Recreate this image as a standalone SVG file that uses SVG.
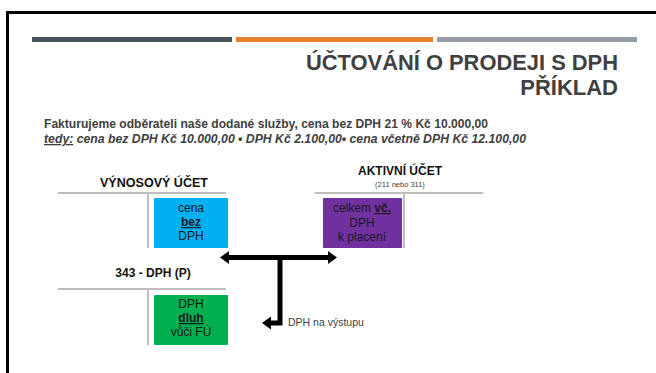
<svg xmlns="http://www.w3.org/2000/svg" width="656" height="373" viewBox="0 0 656 373">
<style>
.t{font-family:"Liberation Sans",Arial,sans-serif;fill:#404040}
.b{font-weight:bold}
.acc{stroke:#bfbfbf;stroke-width:2;fill:none}
.box{font-family:"Liberation Sans",Arial,sans-serif;font-size:12px;fill:#1a1a1a;text-anchor:middle}
.arr{stroke:#000;stroke-width:5;fill:none}
</style>
<rect width="656" height="373" fill="#fff"/>
<path d="M7.5 373 V12.5 H656" stroke="#000" stroke-width="3" fill="none"/>
<rect x="32" y="37" width="200" height="5" fill="#475359"/>
<rect x="236" y="37" width="197" height="5" fill="#e8822a"/>
<rect x="437" y="37" width="200" height="5" fill="#969ca4"/>
<text class="t b" x="618" y="70" font-size="22" text-anchor="end" textLength="312" lengthAdjust="spacingAndGlyphs">ÚČTOVÁNÍ O PRODEJI S DPH</text>
<text class="t b" x="618" y="95" font-size="22" text-anchor="end">PŘÍKLAD</text>
<text class="t b" x="44" y="128" font-size="13" textLength="444" lengthAdjust="spacingAndGlyphs">Fakturujeme odběrateli naše dodané služby, cena bez DPH 21 % Kč 10.000,00</text>
<text class="t b" x="44" y="143" font-size="13" font-style="italic" textLength="482" lengthAdjust="spacingAndGlyphs"><tspan text-decoration="underline">tedy:</tspan> cena bez DPH Kč 10.000,00 • DPH Kč 2.100,00• cena včetně DPH Kč 12.100,00</text>

<g id="vynosovy">
<text class="t b" x="154" y="187" font-size="12" text-anchor="middle" style="fill:#111" textLength="108" lengthAdjust="spacingAndGlyphs">VÝNOSOVÝ ÚČET</text>
<path class="acc" d="M58 193 H226 M148 193 V248"/>
<rect x="154" y="198" width="74" height="50" rx="1" fill="#00b0f0"/>
<text class="box" x="191" y="212">cena</text>
<text class="box b" x="191" y="226" text-decoration="underline">bez</text>
<text class="box" x="191" y="240">DPH</text>
</g>

<g id="aktivni">
<text class="t b" x="400" y="175" font-size="12" text-anchor="middle" style="fill:#111">AKTIVNÍ ÚČET</text>
<text class="t" x="400" y="187" font-size="7.5" text-anchor="middle">(211  nebo 311)</text>
<path class="acc" d="M315 193 H483 M404 193 V248"/>
<rect x="323" y="198" width="79" height="50" rx="1" fill="#7030a0"/>
<text class="box" x="362" y="212">celkem <tspan font-weight="bold" text-decoration="underline">vč.</tspan></text>
<text class="box" x="362" y="227">DPH</text>
<text class="box" x="362" y="241">k placení</text>
</g>

<g id="dph343">
<text class="t b" x="153" y="277" font-size="12" text-anchor="middle" style="fill:#111">343 - DPH (P)</text>
<path class="acc" d="M58 289 H226 M148 289 V345"/>
<rect x="154" y="295" width="74" height="50" rx="1" fill="#00b050"/>
<text class="box" x="191" y="308">DPH</text>
<text class="box b" x="191" y="322" text-decoration="underline">dluh</text>
<text class="box" x="191" y="336">vůči FÚ</text>
</g>

<g id="connectors">
<path class="arr" d="M228 257.5 H328 M280 257.5 V323 H270"/>
<path d="M220 257.5 L229 251 L229 264 Z" fill="#000"/>
<path d="M337 257.5 L328 251 L328 264 Z" fill="#000"/>
<path d="M262 323 L271 316.5 L271 329.5 Z" fill="#000"/>
<text class="t" x="288" y="326" font-size="10.5">DPH na výstupu</text>
</g>
</svg>
